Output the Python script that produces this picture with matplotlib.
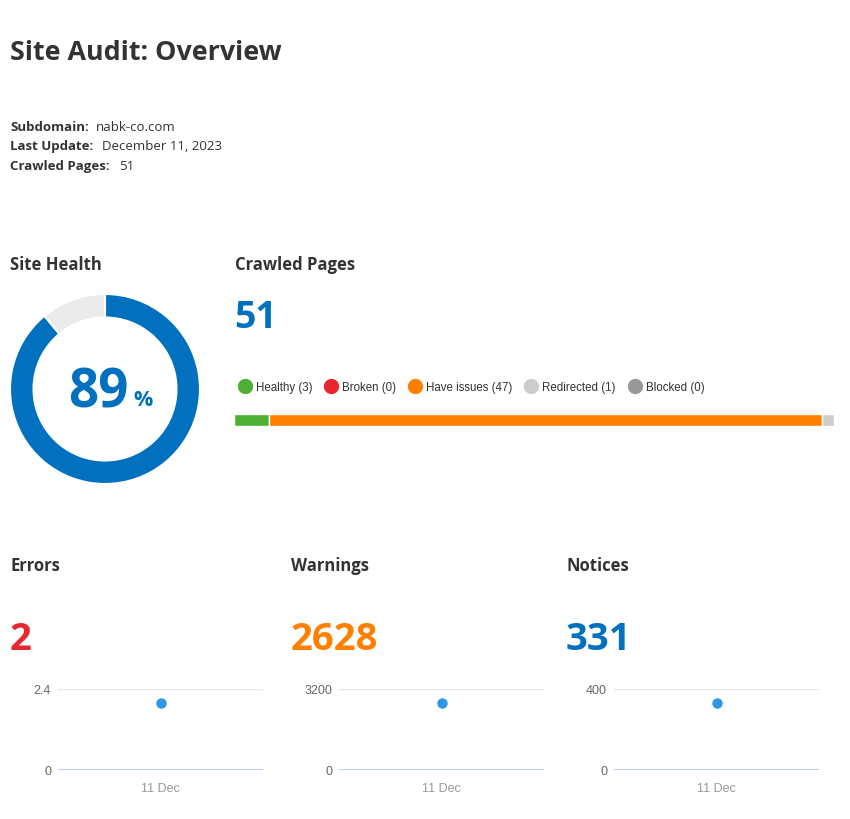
import matplotlib
matplotlib.use('Agg')
import matplotlib.pyplot as plt
from matplotlib.lines import Line2D

plt.rcParams['font.family'] = ['Open Sans', 'DejaVu Sans']

W, H = 850, 820

# data
info_labels = ['Subdomain:', 'Last Update:', 'Crawled Pages:']
info_values = ['nabk-co.com', 'December 11, 2023', '51']
site_health = 89
page_cats = ['Healthy', 'Broken', 'Have issues', 'Redirected', 'Blocked']
page_counts = [3, 0, 47, 1, 0]
page_colors = ['#4DAF33', '#E8262E', '#FF8000', '#CCCCCC', '#999999']
crawled_total = 51
metric_names = ['Errors', 'Warnings', 'Notices']
metric_values = [2, 2628, 331]
metric_colors = ['#E8262E', '#FF8000', '#0070BF']
metric_ymax = [2.4, 3200, 400]
date_label = '11 Dec'

blue = '#0070BF'
dark = '#333333'


def fx(px):
    return px / W


def fy(py):
    return 1 - py / H


fig = plt.figure(figsize=(8.5, 8.2), dpi=100)
fig.patch.set_facecolor('white')

fig.text(fx(10), fy(53), 'Site Audit: Overview', fontsize=19.4, fontweight='bold',
         color=dark, va='center')

value_x = [96, 102, 119]
for i, (lab, val) in enumerate(zip(info_labels, info_values)):
    y = fy(127.5 + i * 19.5)
    fig.text(fx(10), y, lab, fontsize=9.5, fontweight='bold', color=dark, va='center')
    fig.text(fx(value_x[i]), y, val, fontsize=9.5, color=dark, va='center')

# section headings
fig.text(fx(10), fy(265), 'Site Health', fontsize=12, fontweight='bold', color=dark, va='center')
fig.text(fx(235), fy(265), 'Crawled Pages', fontsize=12, fontweight='bold', color=dark, va='center')

# donut
ax = fig.add_axes([fx(5), fy(490), 200 / W, 200 / H])
ax.pie([site_health, 100 - site_health], colors=[blue, '#EBEBEB'], startangle=90,
       counterclock=False, radius=0.95,
       wedgeprops=dict(width=0.235, edgecolor='white', linewidth=1.5))
ax.set_xlim(-1, 1)
ax.set_ylim(-1, 1)
ax.set_aspect('equal')
ax.axis('off')
fig.text(fx(98), fy(394), str(site_health), fontsize=38, fontweight='bold', color=blue,
         ha='center', va='center')
fig.text(fx(143), fy(401), '%', fontsize=15.5, fontweight='bold', color=blue,
         ha='center', va='center')

# crawled pages
fig.text(fx(234), fy(318), str(crawled_total), fontsize=27, fontweight='bold', color=blue,
         va='center')

handles = [Line2D([], [], marker='o', linestyle='', markersize=10, color=c)
           for c in page_colors]
labels = ['%s (%d)' % (n, v) for n, v in zip(page_cats, page_counts)]
fig.legend(handles, labels, loc='center left', bbox_to_anchor=(fx(239), fy(388)),
           ncol=5, frameon=False, handlelength=1.0, handletextpad=0.45,
           columnspacing=1.15, borderaxespad=0, borderpad=0,
           prop={'family': 'Liberation Sans', 'size': 8.3}, labelcolor=dark)

axb = fig.add_axes([fx(234), fy(427), 600 / W, 12 / H])
left = 0
for v, c in zip(page_counts, page_colors):
    if v > 0:
        axb.barh(0, v, left=left, height=1, color=c, edgecolor='white', linewidth=1)
    left += v
axb.set_xlim(0, crawled_total)
axb.set_ylim(-0.5, 0.5)
axb.axis('off')

# errors / warnings / notices
col_x = [10, 291, 566]
for i in range(3):
    fig.text(fx(col_x[i]), fy(566), metric_names[i], fontsize=12, fontweight='bold',
             color=dark, va='center')
    fig.text(fx(col_x[i]), fy(640), str(metric_values[i]), fontsize=27.5, fontweight='bold',
             color=metric_colors[i], va='center')
    am = fig.add_axes([fx(col_x[i] + 48), fy(771), 205 / W, 81 / H])
    am.plot([0], [metric_values[i]], 'o', color='#2F96E6', markersize=6.5, clip_on=False)
    am.set_xlim(-1, 1)
    am.set_ylim(0, metric_ymax[i])
    am.axhline(metric_ymax[i], color='#E6E6E6', linewidth=1)
    am.axhline(0, color='#BCCBF0', linewidth=1.4)
    for s in am.spines.values():
        s.set_visible(False)
    ymax = metric_ymax[i]
    am.set_yticks([0, ymax])
    am.set_yticklabels(['0', ('%g' % ymax)], fontfamily='Liberation Sans', fontsize=9,
                       color='#666666')
    am.set_xticks([0])
    am.set_xticklabels([date_label], fontfamily='Liberation Sans', fontsize=9,
                       color='#999999')
    am.tick_params(length=0, pad=5)
    am.tick_params(axis='x', pad=9)

fig.savefig('out.png', dpi=100, facecolor='white')
